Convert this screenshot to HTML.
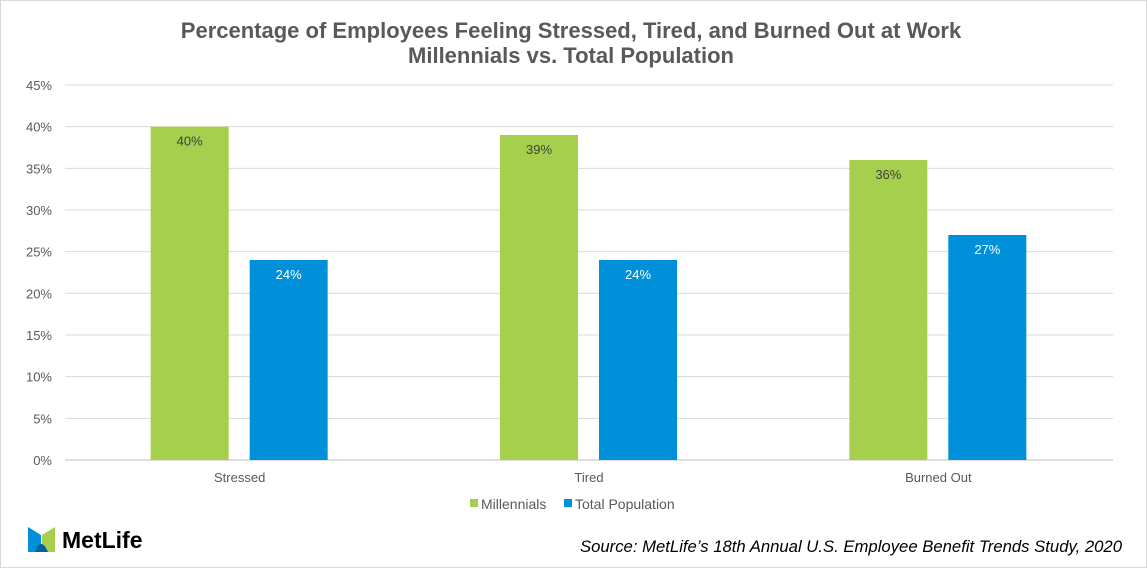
<!DOCTYPE html>
<html><head><meta charset="utf-8"><style>
body{margin:0;background:#fff;width:1147px;height:568px;overflow:hidden;font-family:"Liberation Sans",Arial,sans-serif}
</style></head><body>
<svg id="chart" width="1147" height="568" xmlns="http://www.w3.org/2000/svg" font-family="Liberation Sans, Arial, sans-serif">
<rect x="0.5" y="0.5" width="1146" height="567" fill="#fff" stroke="#d9d9d9"/>
<text x="571" y="38" text-anchor="middle" font-size="22" font-weight="bold" fill="#595959">Percentage of Employees Feeling Stressed, Tired, and Burned Out at Work</text>
<text x="571" y="63" text-anchor="middle" font-size="22" font-weight="bold" fill="#595959">Millennials vs. Total Population</text>
<g id="grid"></g><g id="bars"></g><g id="labels"></g>
<g>
<rect x="470" y="499" width="8" height="8" fill="#a5cf4c"/>
<text x="481" y="509" font-size="14" fill="#595959">Millennials</text>
<rect x="564" y="499" width="8" height="8" fill="#0090da"/>
<text x="575" y="509" font-size="14" fill="#595959">Total Population</text>
</g>
<g>
<path d="M28 527 L41 535 L41 552 L28 552 Z" fill="#0090da"/>
<path d="M55 527 L42 535 L42 552 L55 552 Z" fill="#a5cf4c"/>
<path d="M35 552 Q41 536 48 552 Z" fill="#0061a0"/>
<text x="62" y="548" font-size="23" font-weight="bold" fill="#000">MetLife</text>
</g>
<text x="1122" y="552" text-anchor="end" font-size="16.7" font-style="italic" fill="#000">Source: MetLife’s 18th Annual U.S. Employee Benefit Trends Study, 2020</text>
</svg>
<script>
const categories=["Stressed","Tired","Burned Out"];
const millennials=[40,39,36];
const totalPop=[24,24,27];
const ticks=[0,5,10,15,20,25,30,35,40,45];
const NS="http://www.w3.org/2000/svg";
const x0=65,x1=1113,y0=460,y1=85,max=45;
const y=v=>y0-(v/max)*(y0-y1);
const bw=(x1-x0)/categories.length;
const cx=i=>x0+bw*(i+0.5);
function mk(t,a,p){const e=document.createElementNS(NS,t);for(const k in a)e.setAttribute(k,a[k]);p.appendChild(e);return e;}
const g=document.getElementById('grid'),b=document.getElementById('bars'),l=document.getElementById('labels');
ticks.forEach(t=>{
 const ln=mk('line',{x1:x0,x2:x1,y1:y(t),y2:y(t),stroke:t===0?'#bfbfbf':'#d9d9d9','stroke-width':1},g);
 
 
 const tx=mk('text',{x:52,y:y(t)+5,'text-anchor':'end','font-size':13,fill:'#595959'},g);
 tx.textContent=t+'%';
 
 
});
categories.forEach((c,i)=>{
 const gx=cx(i)-89, tx=cx(i)+10, w=78;
 const r1=mk('rect',{x:gx,y:y(millennials[i]),width:w,height:y0-y(millennials[i]),fill:'#a5cf4c'},b);
 
 
 const r2=mk('rect',{x:tx,y:y(totalPop[i]),width:w,height:y0-y(totalPop[i]),fill:'#0090da'},b);
 
 
 const t1=mk('text',{x:gx+w/2,y:y(millennials[i])+19,'text-anchor':'middle','font-size':13,fill:'#404040'},l);
 t1.textContent=millennials[i]+'%';
 
 
 const t2=mk('text',{x:tx+w/2,y:y(totalPop[i])+19,'text-anchor':'middle','font-size':13,fill:'#fff'},l);
 t2.textContent=totalPop[i]+'%';
 
 
 const cl=mk('text',{x:cx(i),y:482,'text-anchor':'middle','font-size':13,fill:'#595959'},l);
 cl.textContent=c;
 
 
});
</script>
</body></html>
